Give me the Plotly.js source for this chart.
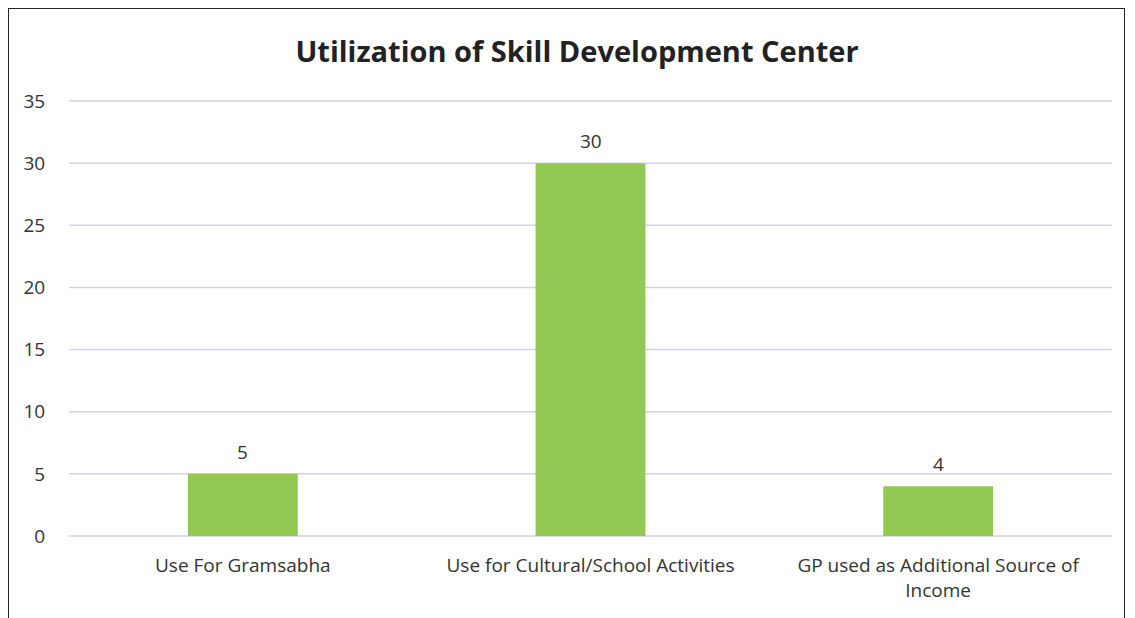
<!DOCTYPE html>
<html>
<head>
<meta charset="utf-8">
<script src="https://cdn.plot.ly/plotly-3.0.1.min.js"></script>
<style>
html,body{margin:0;padding:0;background:#fff;}
#wrap{position:relative;width:1135px;height:618px;overflow:hidden;}
#chart{width:1135px;height:618px;}
#frame{position:absolute;left:8px;top:8px;width:1117px;height:700px;border:1.5px solid #222;pointer-events:none;box-sizing:border-box;}
</style>
</head>
<body>
<div id="wrap"><div id="chart"></div><div id="frame"></div></div>
<script>
var categories = ["Use For Gramsabha", "Use for Cultural/School Activities", "GP used as Additional Source of<br>Income"];
var values = [5, 30, 4];
var yTicks = [0, 5, 10, 15, 20, 25, 30, 35];

var FONT = "'Open Sans', sans-serif";
var TXT = "#333333";
var trace = {
  type: "bar",
  x: categories,
  y: values,
  marker: {color: "#92c953"},
  hoverinfo: "none"
};

var annotations = categories.map(function(c, i){
  return {
    x: c, y: values[i], xref: "x", yref: "y",
    text: String(values[i]), showarrow: false,
    yanchor: "bottom", yshift: 7,
    font: {family: FONT, size: 19, color: TXT}
  };
});

var gridShapes = yTicks.map(function(v){
  return {
    type: "line", xref: "paper", yref: "y", x0: 0, x1: 1, y0: v, y1: v,
    line: {color: "#d2d2e6", width: 1.5}, layer: "below"
  };
});

var layout = {
  width: 1135, height: 618,
  margin: {l: 69, r: 23, t: 100, b: 81, pad: 0},
  paper_bgcolor: "#fff", plot_bgcolor: "#fff",
  showlegend: false,
  bargap: 0.684,
  title: {
    text: "<b>Utilization of Skill Development Center</b>",
    x: 577/1135, xref: "container", xanchor: "center",
    y: 1 - 52/618, yref: "container", yanchor: "middle",
    font: {family: FONT, size: 29, color: "#222222"}
  },
  xaxis: {
    type: "category",
    showgrid: false, zeroline: false, showline: false,
    ticks: "outside", ticklen: 11, tickcolor: "rgba(0,0,0,0)",
    tickfont: {family: FONT, size: 19, color: TXT},
    fixedrange: true
  },
  yaxis: {
    range: [-0.08, 35.08],
    tickvals: yTicks,
    ticktext: yTicks.map(String),
    showgrid: false, zeroline: false, showline: false,
    ticks: "outside", ticklen: 19, tickcolor: "rgba(0,0,0,0)",
    tickfont: {family: FONT, size: 19, color: TXT},
    fixedrange: true
  },
  shapes: gridShapes,
  annotations: annotations
};

Plotly.newPlot("chart", [trace], layout, {displayModeBar: false, staticPlot: true});
</script>
</body>
</html>
